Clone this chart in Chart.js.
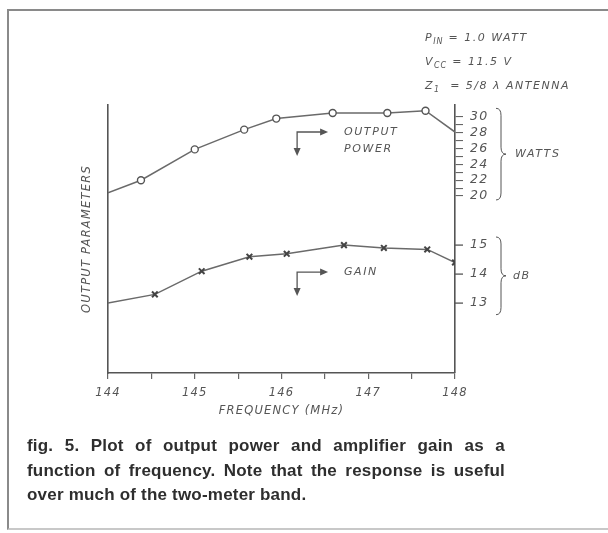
<!DOCTYPE html>
<html lang="en">
<head>
  <meta charset="UTF-8" />
  <title>fig. 5 - output power and gain vs frequency</title>
  <script src="https://cdn.jsdelivr.net/npm/chart.js"></script>
  <style>
    *{margin:0;padding:0;box-sizing:border-box}
    body{width:608px;height:533px;background:#fff;position:relative;overflow:hidden}
    #frame{position:absolute;left:7px;top:9px;width:610px;height:521px;border-top:2px solid #8a8a8a;border-left:2px solid #8a8a8a;border-bottom:2px solid #c8c8c8}
    #plot{position:absolute;left:0;top:0}
    .lett{font-family:'DejaVu Sans',sans-serif;font-style:italic;font-size:11px;letter-spacing:1.5px;color:#555}
    #params{position:absolute;left:425px;top:26px}
    #params div{height:24px;line-height:24px}
    #params sub{font-size:8px;line-height:0;vertical-align:-3px;letter-spacing:1px}
    #caption{position:absolute;left:27px;top:434px;width:478px;font:bold 17px 'Liberation Sans',Arial,sans-serif;color:#2e2e2e;letter-spacing:.2px}
    #caption .ln{line-height:24.5px}
    #caption .j{text-align:justify;text-align-last:justify}
  </style>
</head>
<body>
  <div id="frame"></div>
  <canvas id="plot" width="608" height="533"></canvas>

  <div id="params" class="lett">
    <div>P<sub>IN</sub> = 1.0 WATT</div>
    <div>V<sub>CC</sub> = 11.5 V</div>
    <div>Z<sub>1</sub> &nbsp;= 5/8 λ ANTENNA</div>
  </div>

  <div id="caption">
    <div class="ln j">fig. 5. Plot of output power and amplifier gain as a</div>
    <div class="ln j">function of frequency. Note that the response is useful</div>
    <div class="ln">over much of the two-meter band.</div>
  </div>

  <script>
    // measured points, frequency in MHz
    const powerFreq  = [144.0, 144.38, 145.0, 145.57, 145.94, 146.59, 147.22, 147.66, 148.0];
    const powerWatts = [20.4, 22.0, 25.9, 28.4, 29.8, 30.5, 30.5, 30.8, 28.1];
    const gainFreq   = [144.0, 144.54, 145.08, 145.63, 146.06, 146.72, 147.18, 147.68, 148.0];
    const gainDb     = [13.0, 13.3, 14.1, 14.6, 14.7, 15.0, 14.9, 14.85, 14.4];

    const freqTicks  = [144, 144.5, 145, 145.5, 146, 146.5, 147, 147.5, 148];
    const wattTicks  = [20, 21, 22, 23, 24, 25, 26, 27, 28, 29, 30];
    const dbTicks    = [13, 14, 15];

    const INK = '#555';
    const LETTER = 'italic 11px "DejaVu Sans", sans-serif';

    // right-hand scale notes, brackets and the little "read right" arrows
    const notes = {
      id: 'notes',
      beforeDraw(chart) {
        chart.ctx.letterSpacing = '1.2px';
      },
      afterDraw(chart) {
        const {ctx, chartArea: a, scales: {x, yW, yG}} = chart;
        ctx.save();
        ctx.strokeStyle = INK;
        ctx.fillStyle = INK;
        ctx.lineWidth = 1.3;
        ctx.letterSpacing = '1.2px';

        // dB ticks share the power axis line
        ctx.font = 'italic 12.5px "DejaVu Sans", sans-serif';
        ctx.textBaseline = 'middle';
        dbTicks.forEach(v => {
          const y = yG.getPixelForValue(v);
          ctx.beginPath(); ctx.moveTo(a.right, y); ctx.lineTo(a.right + 8, y); ctx.stroke();
          ctx.fillText(String(v), a.right + 15, y);
        });

        const brace = (top, bot, bx) => {
          const mid = (top + bot) / 2, w = 5, r = 7;
          ctx.beginPath();
          ctx.moveTo(bx, top);
          ctx.quadraticCurveTo(bx + w, top, bx + w, top + r);
          ctx.lineTo(bx + w, mid - r);
          ctx.quadraticCurveTo(bx + w, mid, bx + 2 * w, mid);
          ctx.quadraticCurveTo(bx + w, mid, bx + w, mid + r);
          ctx.lineTo(bx + w, bot - r);
          ctx.quadraticCurveTo(bx + w, bot, bx, bot);
          ctx.stroke();
          return mid;
        };
        ctx.lineWidth = 1;
        ctx.font = LETTER;
        ctx.letterSpacing = '1.6px';
        const wMid = brace(yW.getPixelForValue(31.1), yW.getPixelForValue(19.5), a.right + 41);
        ctx.fillText('WATTS', a.right + 60, wMid);
        const dMid = brace(yG.getPixelForValue(15.28), yG.getPixelForValue(12.6), a.right + 41);
        ctx.fillText('dB', a.right + 58, dMid);

        // bent arrow: down and to the right
        const bent = (cx, cy) => {
          ctx.lineWidth = 1.3;
          ctx.beginPath();
          ctx.moveTo(cx, cy + 18); ctx.lineTo(cx, cy); ctx.lineTo(cx + 24, cy);
          ctx.stroke();
          ctx.beginPath();
          ctx.moveTo(cx + 31, cy); ctx.lineTo(cx + 23, cy - 3.5); ctx.lineTo(cx + 23, cy + 3.5); ctx.closePath();
          ctx.fill();
          ctx.beginPath();
          ctx.moveTo(cx, cy + 24); ctx.lineTo(cx - 3.5, cy + 16); ctx.lineTo(cx + 3.5, cy + 16); ctx.closePath();
          ctx.fill();
        };
        bent(x.getPixelForValue(146.18), yW.getPixelForValue(28.1));
        bent(x.getPixelForValue(146.18), yG.getPixelForValue(14.07));

        ctx.textAlign = 'left';
        ctx.fillText('OUTPUT', x.getPixelForValue(146.72), yW.getPixelForValue(28.1));
        ctx.fillText('POWER', x.getPixelForValue(146.72), yW.getPixelForValue(25.95));
        ctx.fillText('GAIN', x.getPixelForValue(146.72), yG.getPixelForValue(14.07));
        ctx.restore();
      }
    };

    new Chart(document.getElementById('plot').getContext('2d'), {
      type: 'line',
      data: {
        datasets: [{
          label: 'OUTPUT POWER',
          data: powerFreq.map((f, i) => ({x: f, y: powerWatts[i]})),
          yAxisID: 'yW',
          borderColor: '#6a6a6a',
          borderWidth: 1.5,
          pointStyle: 'circle',
          pointRadius: powerFreq.map((f, i) => (i === 0 || i === powerFreq.length - 1) ? 0 : 3.5),
          pointBackgroundColor: '#fff',
          pointBorderColor: '#555',
          pointBorderWidth: 1.4
        }, {
          label: 'GAIN',
          data: gainFreq.map((f, i) => ({x: f, y: gainDb[i]})),
          yAxisID: 'yG',
          borderColor: '#6a6a6a',
          borderWidth: 1.5,
          pointStyle: 'crossRot',
          pointRadius: gainFreq.map((f, i) => i === 0 ? 0 : 4),
          pointBorderColor: '#444',
          pointBorderWidth: 2
        }]
      },
      options: {
        responsive: false,
        animation: false,
        devicePixelRatio: 1,
        layout: {padding: {left: 72, top: 105, right: 113, bottom: 112}},
        plugins: {legend: {display: false}, tooltip: {enabled: false}},
        scales: {
          x: {
            type: 'linear', min: 144, max: 148,
            afterBuildTicks: s => { s.ticks = freqTicks.map(v => ({value: v})); },
            afterFit: s => { s.height = 48; },
            grid: {drawOnChartArea: false, tickLength: 6, color: '#666', lineWidth: 1.2},
            border: {color: INK, width: 1.6},
            ticks: {
              color: INK, padding: 7, maxRotation: 0, autoSkip: false,
              font: {family: 'DejaVu Sans', style: 'italic', size: 11.5},
              callback: v => Number.isInteger(v) ? String(v) : ''
            },
            title: {
              display: true, text: 'FREQUENCY (MHz)', color: INK,
              font: {family: 'DejaVu Sans', style: 'italic', size: 11.5},
              padding: {top: 0, bottom: 3}
            }
          },
          yG: {
            type: 'linear', position: 'left', min: 10.59, max: 19.83,
            afterBuildTicks: s => { s.ticks = []; },
            afterFit: s => { s.width = 36; },
            grid: {drawOnChartArea: false, drawTicks: false},
            border: {color: INK, width: 1.6},
            ticks: {display: false},
            title: {
              display: true, text: 'OUTPUT PARAMETERS', color: INK,
              font: {family: 'DejaVu Sans', style: 'italic', size: 11.5},
              padding: {top: 8, bottom: 0}
            }
          },
          yW: {
            type: 'linear', position: 'right', min: -2.4, max: 31.52,
            afterBuildTicks: s => { s.ticks = wattTicks.map(v => ({value: v})); },
            afterFit: s => { s.width = 40; },
            grid: {drawOnChartArea: false, tickLength: 8, color: '#666', lineWidth: 1.1},
            border: {color: INK, width: 1.6},
            ticks: {
              color: INK, padding: 7, autoSkip: false,
              font: {family: 'DejaVu Sans', style: 'italic', size: 12.5},
              callback: v => v % 2 === 0 ? String(v) : ''
            }
          }
        }
      },
      plugins: [notes]
    });
  </script>
</body>
</html>
